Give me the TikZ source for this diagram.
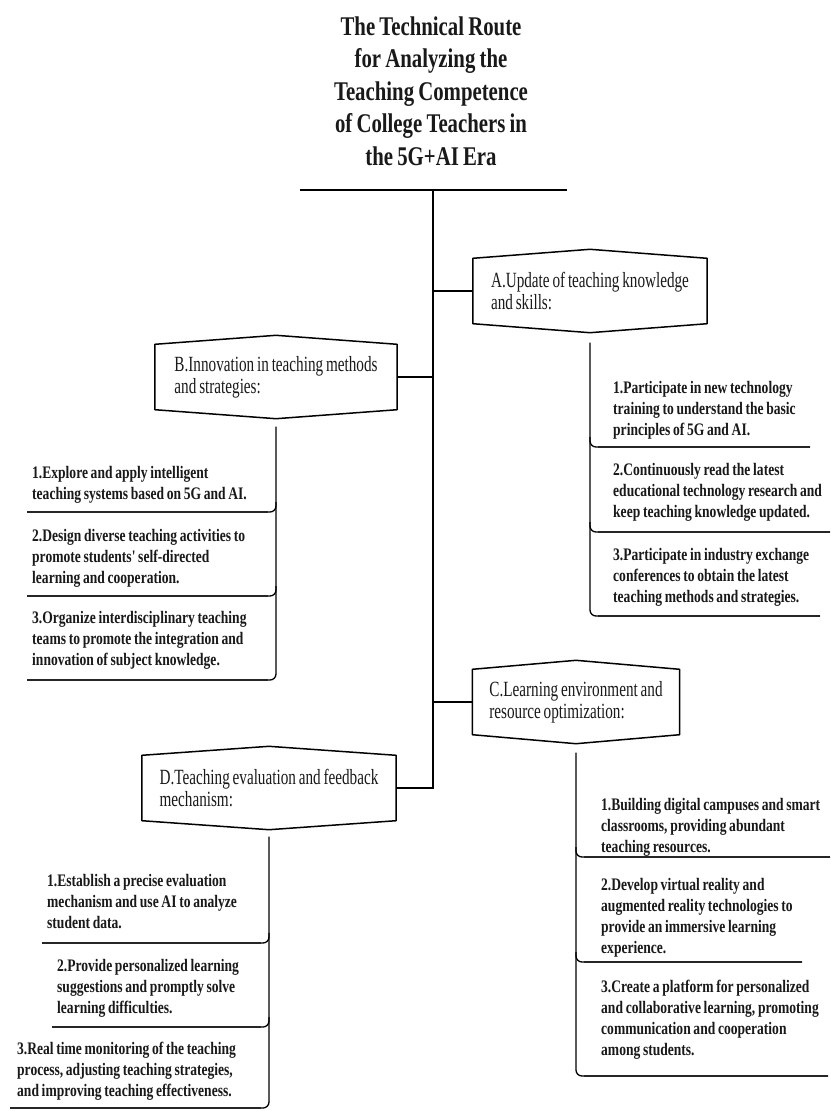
\documentclass[tikz,border=0pt]{standalone}
\usepackage{fontspec}
\setmainfont{Liberation Serif}
\newfontfamily\titlefont[FakeStretch=0.77,WordSpace=0.8]{Liberation Serif}
\newfontfamily\boxfont[FakeStretch=0.70,WordSpace=0.75]{Liberation Serif}
\newfontfamily\itemfont[FakeStretch=0.77,WordSpace=0.8]{Liberation Serif}
\usepackage{tikz}
\usetikzlibrary{calc,positioning}

\begin{document}
\begin{tikzpicture}[x=1pt,y=-1pt,
  every node/.style={inner sep=0pt,text=black!90},
  titletext/.style={font=\titlefont\bfseries\fontsize{27}{32.5}\selectfont,text width=330pt,align=flush center,anchor=base},
  boxlabel/.style={font=\boxfont\fontsize{21.7}{22.3}\selectfont,align=left,minimum height=65pt},
  itemtext/.style={font=\itemfont\bfseries\fontsize{17.6}{21}\selectfont,text width=260pt,align=flush left,anchor=base west},
  hexline/.style={line width=1.5pt,line join=round},
  trunkline/.style={line width=1.4pt},
  stemline/.style={line width=1.3pt,rounded corners=6pt},
  itemline/.style={line width=2.6pt,black!85}]
  \useasboundingbox[fill=white] (0,0) rectangle (830,1111);
  % title
  \node[titletext] (title) at (431,35) {The Technical Route\\for Analyzing the\\Teaching Competence\\of College Teachers in\\the 5G+AI Era};
  \draw[line width=2.4pt] (300,190) -- (567,190);
  \coordinate (top) at (433,190);
  % the four boxes
  \node[boxlabel,minimum width=234pt] (A) at (590,291) {A.Update of teaching knowledge\\and skills:};
  \node[boxlabel,minimum width=242pt] (B) at (276,377) {B.Innovation in teaching methods\\and strategies:};
  \node[boxlabel,minimum width=207pt] (C) at (576,702) {C.Learning environment and\\resource optimization:};
  \node[boxlabel,minimum width=254pt] (D) at (269,788) {D.Teaching evaluation and feedback\\mechanism:};
  \draw[hexline] (A.north west) -- ($(A.north)+(0,-9)$) -- (A.north east) -- (A.south east) -- ($(A.south)+(0,9)$) -- (A.south west) -- cycle;
  \draw[hexline] (B.north west) -- ($(B.north)+(0,-9)$) -- (B.north east) -- (B.south east) -- ($(B.south)+(0,9)$) -- (B.south west) -- cycle;
  \draw[hexline] (C.north west) -- ($(C.north)+(0,-9)$) -- (C.north east) -- (C.south east) -- ($(C.south)+(0,9)$) -- (C.south west) -- cycle;
  \draw[hexline] (D.north west) -- ($(D.north)+(0,-9)$) -- (D.north east) -- (D.south east) -- ($(D.south)+(0,9)$) -- (D.south west) -- cycle;
  % trunk
  \draw[trunkline] (top) |- (D.east);
  \draw[trunkline] (top |- A.west) -- (A.west);
  \draw[trunkline] (B.east) -- (top |- B.east);
  \draw[trunkline] (top |- C.west) -- (C.west);
  % column A
  \coordinate (a0) at ($(A.south)+(0,19)$);
  \draw[stemline] (a0) |- (820,616);
  \draw[stemline] (a0 |- 0,437) |- (810,447);
  \draw[stemline] (a0 |- 0,522) |- (830,532);
  \draw[itemline] (598,447) -- (810,447);
  \draw[itemline] (598,532) -- (830,532);
  \draw[itemline] (598,616) -- (820,616);
  \node[itemtext] (a1) at (613,393) {1.Participate in new technology\\training to understand the basic\\principles of 5G and AI.};
  \node[itemtext] (a2) at (613,475) {2.Continuously read the latest\\educational technology research and\\keep teaching knowledge updated.};
  \node[itemtext] (a3) at (613,560) {3.Participate in industry exchange\\conferences to obtain the latest\\teaching methods and strategies.};
  % column B
  \coordinate (b0) at ($(B.south)+(0,17)$);
  \draw[stemline] (b0) |- (27,680);
  \draw[stemline] (b0 |- 0,502) |- (27,512);
  \draw[stemline] (b0 |- 0,586) |- (27,596);
  \draw[itemline] (268,512) -- (27,512);
  \draw[itemline] (268,596) -- (27,596);
  \draw[itemline] (268,680) -- (27,680);
  \node[itemtext] (b1) at (32,478) {1.Explore and apply intelligent\\teaching systems based on 5G and AI.};
  \node[itemtext] (b2) at (32,541) {2.Design diverse teaching activities to\\promote students' self-directed\\learning and cooperation.};
  \node[itemtext] (b3) at (32,623) {3.Organize interdisciplinary teaching\\teams to promote the integration and\\innovation of subject knowledge.};
  % column C
  \coordinate (c0) at ($(C.south)+(0,18)$);
  \draw[stemline] (c0) |- (828,1076);
  \draw[stemline] (c0 |- 0,847) |- (830,857);
  \draw[stemline] (c0 |- 0,952) |- (802,962);
  \draw[itemline] (584,857) -- (830,857);
  \draw[itemline] (584,962) -- (802,962);
  \draw[itemline] (584,1076) -- (828,1076);
  \node[itemtext] (c1) at (601,810) {1.Building digital campuses and smart\\classrooms, providing abundant\\teaching resources.};
  \node[itemtext] (c2) at (601,890) {2.Develop virtual reality and\\augmented reality technologies to\\provide an immersive learning\\experience.};
  \node[itemtext] (c3) at (601,992) {3.Create a platform for personalized\\and collaborative learning, promoting\\communication and cooperation\\among students.};
  % column D
  \coordinate (d0) at ($(D.south)+(0,16)$);
  \draw[stemline] (d0) |- (10,1108);
  \draw[stemline] (d0 |- 0,933) |- (42,943);
  \draw[stemline] (d0 |- 0,1017) |- (52,1027);
  \draw[itemline] (261,943) -- (42,943);
  \draw[itemline] (261,1027) -- (52,1027);
  \draw[itemline] (261,1108) -- (10,1108);
  \node[itemtext] (d1) at (47,886) {1.Establish a precise evaluation\\mechanism and use AI to analyze\\student data.};
  \node[itemtext] (d2) at (57,971) {2.Provide personalized learning\\suggestions and promptly solve\\learning difficulties.};
  \node[itemtext] (d3) at (17,1054) {3.Real time monitoring of the teaching\\process, adjusting teaching strategies,\\and improving teaching effectiveness.};
\end{tikzpicture}
\end{document}
